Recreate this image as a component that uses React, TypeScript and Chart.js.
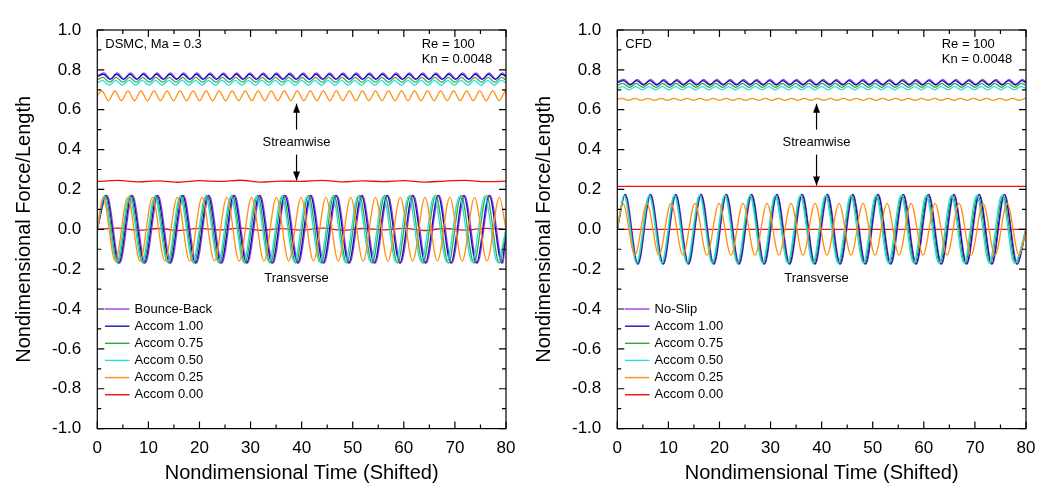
import { useEffect, useRef } from 'react';
import Chart from 'chart.js/auto';

// series labels and colours
const leftLabels = ['Bounce-Back', 'Accom 1.00', 'Accom 0.75', 'Accom 0.50', 'Accom 0.25', 'Accom 0.00'];
const rightLabels = ['No-Slip', 'Accom 1.00', 'Accom 0.75', 'Accom 0.50', 'Accom 0.25', 'Accom 0.00'];
const colors = ['#a23be0', '#1010c0', '#3aa53a', '#22e0e0', '#ff9010', '#ee1010'];

// streamwise: mean, half-amplitude, first peak, period
const leftStreamMean = [0.77, 0.765, 0.75, 0.735, 0.67, 0.24];
const leftStreamAmp = [0.015, 0.013, 0.012, 0.012, 0.025, 0];
const rightStreamMean = [0.74, 0.735, 0.722, 0.708, 0.652, 0.215];
const rightStreamAmp = [0.012, 0.011, 0.01, 0.008, 0.005, 0];
const streamPeriod = [2.6, 2.6, 2.6, 2.6, 2.55, 2.6];
const streamFirstPeak = [1.3, 1.2, 1.1, 1.0, 0.9, 0];

// transverse: amplitude, first peak, period
const leftTransAmp = [0.17, 0.17, 0.17, 0.165, 0.16, 0];
const leftTransPeak = [1.9, 1.7, 1.5, 1.3, 1.1, 0];
const leftTransPeriod = [5.0, 5.0, 4.98, 4.97, 4.85, 5];
const rightTransAmp = [0.175, 0.175, 0.17, 0.17, 0.13, 0];
const rightTransPeak = [1.6, 1.5, 1.4, 1.3, 1.1, 0];
const rightTransPeriod = [4.95, 4.95, 4.94, 4.93, 4.7, 5];

// small noise on the Accom 0.00 DSMC lines
const redNoiseTimes = [0, 4, 8, 12, 16, 20, 24, 28, 32, 36, 40, 44, 48, 52, 56, 60, 64, 68, 72, 76, 80];
const redNoiseStream = [0.24, 0.245, 0.238, 0.243, 0.236, 0.244, 0.24, 0.246, 0.237, 0.242, 0.24, 0.245, 0.238, 0.243, 0.239, 0.244, 0.237, 0.242, 0.245, 0.239, 0.242];
const redNoiseTrans = [0, 0.006, -0.005, 0.004, -0.006, 0.005, -0.003, 0.006, -0.005, 0.003, -0.004, 0.006, -0.005, 0.004, -0.003, 0.005, -0.006, 0.004, -0.004, 0.005, 0];

const xTicks = [0, 10, 20, 30, 40, 50, 60, 70, 80];
const yTicks = [-1, -0.8, -0.6, -0.4, -0.2, 0, 0.2, 0.4, 0.6, 0.8, 1];

function extremes(mean: number, amp: number, first: number, period: number) {
  const pts = [{ x: 0, y: mean }];
  let sign = 1;
  for (let t = first; t <= 80; t += period / 2) {
    pts.push({ x: t, y: mean + sign * amp });
    sign = -sign;
  }
  pts.push({ x: 80, y: mean });
  return pts;
}

function buildDatasets(side: 'L' | 'R') {
  const ds: any[] = [];
  for (let i = 0; i < 6; i++) {
    const sMean = side === 'L' ? leftStreamMean[i] : rightStreamMean[i];
    const sAmp = side === 'L' ? leftStreamAmp[i] : rightStreamAmp[i];
    const tAmp = side === 'L' ? leftTransAmp[i] : rightTransAmp[i];
    const tPeak = side === 'L' ? leftTransPeak[i] : rightTransPeak[i];
    const tPer = side === 'L' ? leftTransPeriod[i] : rightTransPeriod[i];
    let stream, trans;
    if (i === 5 && side === 'L') {
      stream = redNoiseTimes.map((x, k) => ({ x, y: redNoiseStream[k] }));
      trans = redNoiseTimes.map((x, k) => ({ x, y: redNoiseTrans[k] }));
    } else if (i === 5) {
      stream = [{ x: 0, y: sMean }, { x: 80, y: sMean }];
      trans = [{ x: 0, y: 0 }, { x: 80, y: 0 }];
    } else {
      stream = extremes(sMean, sAmp, streamFirstPeak[i], streamPeriod[i]);
      trans = extremes(0, tAmp, tPeak, tPer);
    }
    for (const data of [stream, trans]) {
      ds.push({ data, borderColor: colors[i], borderWidth: 1.3, pointRadius: 0, tension: 0.4, cubicInterpolationMode: 'monotone' });
    }
  }
  // draw red last on top
  return [...ds.slice(0, 10).reverse(), ...ds.slice(10)];
}

function makeDecor(title: string, labels: string[], redStream: number) {
  return {
    id: 'decor',
    afterDraw(chart: any) {
      const { ctx, chartArea: a, scales } = chart;
      const X = (v: number) => scales.x.getPixelForValue(v);
      const Y = (v: number) => scales.y.getPixelForValue(v);
      ctx.save();
      ctx.strokeStyle = '#000';
      ctx.lineWidth = 1.2;
      ctx.strokeRect(a.left, a.top, a.right - a.left, a.bottom - a.top);
      ctx.beginPath();
      for (const t of xTicks) {
        ctx.moveTo(X(t), a.bottom); ctx.lineTo(X(t), a.bottom - 7);
        ctx.moveTo(X(t), a.top); ctx.lineTo(X(t), a.top + 7);
      }
      for (let t = 5; t < 80; t += 10) {
        ctx.moveTo(X(t), a.bottom); ctx.lineTo(X(t), a.bottom - 4);
        ctx.moveTo(X(t), a.top); ctx.lineTo(X(t), a.top + 4);
      }
      for (const t of yTicks) {
        ctx.moveTo(a.left, Y(t)); ctx.lineTo(a.left + 7, Y(t));
        ctx.moveTo(a.right, Y(t)); ctx.lineTo(a.right - 7, Y(t));
      }
      for (let t = -0.9; t < 1; t += 0.2) {
        ctx.moveTo(a.left, Y(t)); ctx.lineTo(a.left + 4, Y(t));
        ctx.moveTo(a.right, Y(t)); ctx.lineTo(a.right - 4, Y(t));
      }
      ctx.stroke();
      ctx.fillStyle = '#000';
      ctx.font = '13px "Liberation Sans", Arial, sans-serif';
      ctx.textBaseline = 'middle';
      ctx.textAlign = 'left';
      ctx.fillText(title, a.left + 8, Y(0.93));
      ctx.fillText('Re = 100', X(63.5), Y(0.93));
      ctx.fillText('Kn = 0.0048', X(63.5), Y(0.85));
      ctx.textAlign = 'center';
      ctx.fillText('Streamwise', X(39), Y(0.435));
      ctx.fillText('Transverse', X(39), Y(-0.245));
      const arrow = (y0: number, y1: number) => {
        const x = X(39);
        ctx.beginPath(); ctx.moveTo(x, Y(y0)); ctx.lineTo(x, Y(y1)); ctx.stroke();
        const dir = Y(y1) > Y(y0) ? 1 : -1;
        ctx.beginPath();
        ctx.moveTo(x, Y(y1)); ctx.lineTo(x - 3.5, Y(y1) - dir * 9); ctx.lineTo(x + 3.5, Y(y1) - dir * 9);
        ctx.closePath(); ctx.fill();
      };
      arrow(0.5, 0.63);
      arrow(0.375, redStream + 0.005);
      ctx.textAlign = 'left';
      labels.forEach((lab, i) => {
        const y = Y(-0.4 - i * 0.086);
        ctx.strokeStyle = colors[i];
        ctx.lineWidth = 1.4;
        ctx.beginPath(); ctx.moveTo(X(1.5), y); ctx.lineTo(X(6.3), y); ctx.stroke();
        ctx.fillStyle = '#000';
        ctx.fillText(lab, X(7.3), y);
      });
      ctx.restore();
    },
  };
}

function Panel({ side }: { side: 'L' | 'R' }) {
  const ref = useRef<HTMLCanvasElement>(null);
  useEffect(() => {
    if (!ref.current) return;
    const font = { family: '"Liberation Sans", Arial, sans-serif', size: 17 };
    const chart = new Chart(ref.current, {
      type: 'line',
      data: { datasets: buildDatasets(side) },
      options: {
        animation: false,
        responsive: false,
        layout: { padding: { top: 22, right: 22, left: 0, bottom: 0 } },
        plugins: { legend: { display: false }, tooltip: { enabled: false } },
        scales: {
          x: {
            type: 'linear', min: 0, max: 80,
            afterBuildTicks: (s: any) => { s.ticks = xTicks.map((v) => ({ value: v })); },
            grid: { display: false }, border: { display: false },
            ticks: { color: '#000', font, maxRotation: 0, padding: 2 },
            title: { display: true, text: 'Nondimensional Time (Shifted)', color: '#000', font: { ...font, size: 20 }, padding: { top: 0 } },
          },
          y: {
            min: -1, max: 1,
            afterBuildTicks: (s: any) => { s.ticks = yTicks.map((v) => ({ value: v })); },
            grid: { display: false }, border: { display: false },
            ticks: { color: '#000', font, padding: 8, callback: (v: any) => Number(v).toFixed(1) },
            title: { display: true, text: 'Nondimensional Force/Length', color: '#000', font: { ...font, size: 20 }, padding: { bottom: 8 } },
          },
        },
      },
      plugins: [makeDecor(side === 'L' ? 'DSMC, Ma = 0.3' : 'CFD', side === 'L' ? leftLabels : rightLabels, side === 'L' ? 0.24 : 0.215)],
    } as any);
    return () => chart.destroy();
  }, [side]);
  return <canvas ref={ref} width={520} height={481} style={{ display: 'block' }} />;
}

export default function App() {
  return (
    <div style={{ display: 'flex', width: 1040, height: 481, background: '#fff' }}>
      <Panel side="L" />
      <div style={{ width: 18 }} />
      <Panel side="R" />
    </div>
  );
}
